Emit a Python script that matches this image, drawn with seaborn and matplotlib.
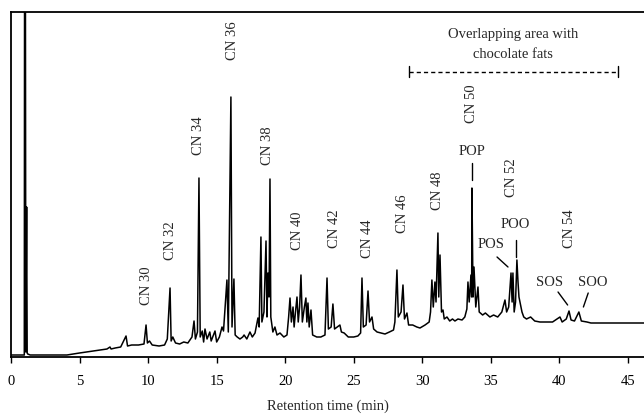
import matplotlib
matplotlib.use("Agg")
import matplotlib.pyplot as plt
import seaborn as sns
import pandas as pd

# Chromatogram trace: retention time (min) and detector signal (arbitrary units)
time_min = [0.0, 0.97, 0.99, 1.05, 1.08, 1.14, 1.18, 1.22, 1.4, 4.08, 5.0, 6.49, 7.0, 7.22, 7.3, 7.6, 8.0, 8.39, 8.5,
            8.8, 9.3, 9.7, 9.85, 9.95, 10.1, 10.3, 10.8, 11.2, 11.4, 11.6, 11.68, 11.8, 12.0, 12.3, 12.6, 12.9, 13.2,
            13.35, 13.45, 13.6, 13.71, 13.8, 13.95, 14.05, 14.15, 14.3, 14.5, 14.6, 14.88, 15.0, 15.2, 15.39, 15.5,
            15.75, 15.85, 16.04, 16.12, 16.26, 16.35, 16.5, 16.7, 16.9, 17.0, 17.2, 17.43, 17.6, 17.8, 18.01, 18.1,
            18.23, 18.3, 18.45, 18.6, 18.67, 18.74, 18.82, 18.89, 18.95, 19.1, 19.25, 19.4, 19.62, 19.9, 20.13,
            20.25, 20.35, 20.45, 20.57, 20.65, 20.75, 20.86, 20.95, 21.05, 21.15, 21.25, 21.4, 21.51, 21.58, 21.66,
            21.75, 21.88, 22.0, 22.3, 22.6, 22.9, 23.05, 23.15, 23.35, 23.48, 23.6, 23.8, 23.99, 24.1, 24.3, 24.6,
            25.0, 25.3, 25.5, 25.6, 25.7, 25.9, 26.04, 26.15, 26.33, 26.45, 26.7, 27.0, 27.28, 27.6, 27.9, 28.0,
            28.15, 28.25, 28.45, 28.59, 28.7, 28.88, 29.0, 29.3, 29.6, 29.83, 30.2, 30.5, 30.6, 30.7, 30.8, 30.92,
            31.0, 31.14, 31.2, 31.29, 31.4, 31.51, 31.6, 31.8, 32.0, 32.2, 32.38, 32.6, 32.9, 33.1, 33.25, 33.33,
            33.42, 33.55, 33.6, 33.62, 33.7, 33.77, 33.9, 34.06, 34.15, 34.4, 34.6, 34.93, 35.2, 35.5, 35.8, 36.03,
            36.15, 36.3, 36.47, 36.55, 36.61, 36.7, 36.8, 36.9, 36.98, 37.05, 37.27, 37.4, 37.6, 37.9, 38.2, 38.58,
            39.0, 39.5, 40.04, 40.2, 40.5, 40.7, 40.85, 41.1, 41.42, 41.6, 42.01, 42.3, 42.74, 46.5]
signal = [2, 2, 400, 400, 5, 150, 4, 3, 2, 2, 4, 7, 8, 10, 8, 9, 10, 21, 11,
          12, 12, 13, 32, 14, 16, 12, 11, 12, 18, 69, 16, 20, 14, 13, 15, 14, 20,
          36, 18, 25, 179, 20, 26, 15, 28, 18, 25, 16, 26, 15, 20, 30, 26,
          77, 25, 260, 30, 78, 22, 20, 18, 20, 22, 18, 25, 20, 24, 39, 30,
          120, 35, 45, 116, 40, 84, 60, 178, 40, 25, 30, 22, 24, 20, 22,
          40, 59, 35, 50, 30, 45, 60, 35, 50, 82, 35, 50, 59, 35, 54,
          30, 47, 22, 20, 20, 22, 79, 28, 30, 53, 28, 30, 32, 25, 24, 20,
          20, 21, 24, 79, 30, 32, 66, 35, 40, 28, 25, 24, 23, 25, 27, 35,
          87, 40, 45, 72, 38, 44, 32, 32, 30, 29, 32, 35, 45, 77, 50, 75,
          55, 124, 60, 102, 45, 47, 38, 40, 36, 38, 36, 38, 37, 40, 48, 75,
          55, 82, 60, 169, 60, 90, 50, 70, 45, 42, 44, 40, 42, 40, 45, 57,
          45, 50, 84, 55, 84, 45, 55, 97, 75, 60, 45, 40, 38, 40, 36, 35,
          35, 35, 40, 35, 38, 46, 37, 36, 45, 36, 35, 34, 34, 34]

# Peak group labels (text, retention time, bottom of label)
cn_labels = ["CN 30", "CN 32", "CN 34", "CN 36", "CN 38", "CN 40", "CN 42", "CN 44", "CN 46", "CN 48", "CN 50", "CN 52", "CN 54"]
cn_times = [9.85, 11.6, 13.64, 16.12, 18.74, 20.93, 23.63, 25.97, 28.59, 31.11, 33.62, 36.54, 40.77]
cn_bottoms = [52, 97, 202, 297, 192, 107, 109, 99, 124, 147, 234, 160, 109]

tag_labels = ["POP", "POS", "POO", "SOS", "SOO"]

df = pd.DataFrame({"t": time_min, "s": signal})

sns.set_style("ticks")
plt.rcParams["font.family"] = ["Liberation Serif", "DejaVu Serif"]

fig = plt.figure(figsize=(6.44, 4.18), dpi=100)
ax = fig.add_axes([11 / 644, 61 / 418, 1 - 11 / 644, 345 / 418])
sns.lineplot(data=df, x="t", y="s", sort=False, estimator=None, color="black", linewidth=1.1, ax=ax)

ax.set_xlim(0, 46.17)
ax.set_ylim(0, 345)
ax.set_yticks([])
ax.set_xticks(range(0, 50, 5))
ax.tick_params(axis="x", direction="out", length=4, width=1, pad=9, labelsize=10.5, colors="black")
ax.set_xlabel("Retention time (min)", fontsize=10.5, labelpad=8)
ax.set_ylabel("")
for side in ["left", "bottom", "top"]:
    ax.spines[side].set_linewidth(1.3)
    ax.spines[side].set_color("black")
ax.spines["right"].set_visible(False)

for lab, t, b in zip(cn_labels, cn_times, cn_bottoms):
    ax.text(t, b, lab, rotation=90, ha="center", va="bottom", fontsize=10.5)

# Component tags with leader lines
ax.text(33.62, 205, tag_labels[0], ha="center", va="center", fontsize=10.5)
ax.plot([33.62, 33.62], [177, 194], color="black", lw=1)
ax.text(35.0, 112, tag_labels[1], ha="center", va="center", fontsize=10.5)
ax.plot([35.45, 36.25], [100, 90], color="black", lw=1)
ax.text(36.75, 132, tag_labels[2], ha="center", va="center", fontsize=10.5)
ax.plot([36.8, 36.8], [100, 117], color="black", lw=1)
ax.text(39.3, 74, tag_labels[3], ha="center", va="center", fontsize=10.5)
ax.plot([39.9, 40.6], [65, 52], color="black", lw=1)
ax.text(42.4, 74, tag_labels[4], ha="center", va="center", fontsize=10.5)
ax.plot([42.1, 41.75], [64, 50], color="black", lw=1)

# Overlapping area bracket
ax.plot([29.0, 44.3], [285, 285], color="black", lw=1, ls=(0, (3, 2.2)))
ax.plot([29.0, 29.0], [280, 291], color="black", lw=1)
ax.plot([44.3, 44.3], [280, 291], color="black", lw=1)
ax.text(36.6, 322, "Overlapping area with", ha="center", va="center", fontsize=10.5)
ax.text(36.6, 302, "chocolate fats", ha="center", va="center", fontsize=10.5)

fig.savefig("out.png", dpi=100)
